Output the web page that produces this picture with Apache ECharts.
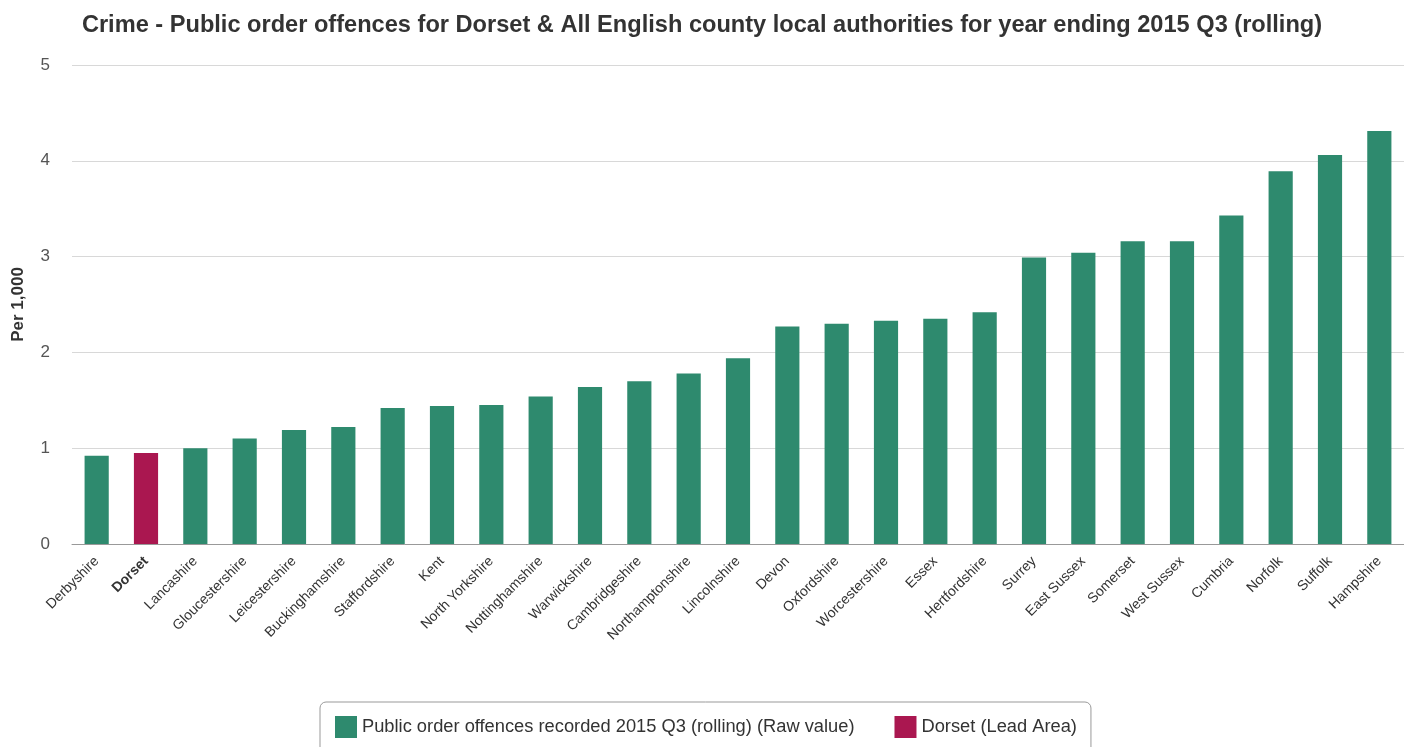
<!DOCTYPE html>
<html><head><meta charset="utf-8">
<script src="https://cdn.jsdelivr.net/npm/echarts@6/dist/echarts.min.js"></script>
<style>html,body{margin:0;padding:0;background:#fff}#c{width:1404px;height:747px}</style>
</head><body><div id="c"></div>
<script>
const categories = ["Derbyshire","Dorset","Lancashire","Gloucestershire","Leicestershire","Buckinghamshire","Staffordshire","Kent","North Yorkshire","Nottinghamshire","Warwickshire","Cambridgeshire","Northamptonshire","Lincolnshire","Devon","Oxfordshire","Worcestershire","Essex","Hertfordshire","Surrey","East Sussex","Somerset","West Sussex","Cumbria","Norfolk","Suffolk","Hampshire"];
const values = [0.92,0.95,1.00,1.10,1.19,1.22,1.42,1.44,1.45,1.54,1.64,1.70,1.78,1.94,2.27,2.30,2.33,2.35,2.42,2.99,3.04,3.16,3.16,3.43,3.89,4.06,4.31];
const leadArea = "Dorset";
const seriesNames = ["Public order offences recorded 2015 Q3 (rolling) (Raw value)","Dorset (Lead Area)"];
const yTicks = [0,1,2,3,4,5];

const mainData = values.map((v,i)=>categories[i]===leadArea?null:v);
const leadData = values.map((v,i)=>categories[i]===leadArea?v:null);

const chart = echarts.init(document.getElementById('c'));
chart.setOption({
  animation:false,
  textStyle:{fontFamily:'Liberation Sans, Arial, sans-serif'},
  title:{text:'Crime - Public order offences for Dorset & All English county local authorities for year ending 2015 Q3 (rolling)',
    left:'center', top:8, textStyle:{fontSize:23.6,fontWeight:'bold',color:'#333'}},
  grid:{left:72,right:0,top:65,bottom:203},
  legend:{top:702,left:320,data:seriesNames,icon:'rect',itemWidth:22,itemHeight:22,itemGap:40,
    borderColor:'#999',borderWidth:1,borderRadius:6,padding:[14,14,18,15],
    textStyle:{fontSize:18.3,color:'#333'}},
  xAxis:{type:'category',data:categories,
    axisLine:{lineStyle:{color:'#999',width:1}},
    axisTick:{length:10,lineStyle:{color:'#c0d0e0'}},
    axisLabel:{rotate:45,interval:0,fontSize:14,color:'#333',margin:15,
      formatter:(v)=>v===leadArea?'{b|'+v+'}':v, rich:{b:{fontWeight:'bold',fontSize:14,color:'#333'}}}},
  yAxis:{type:'value',min:0,max:5,interval:1,
    name:'Per 1,000',nameLocation:'middle',nameGap:45,nameRotate:90,
    nameTextStyle:{fontSize:17,fontWeight:'bold',color:'#333'},
    axisLabel:{fontSize:17,color:'#555',margin:22},
    splitLine:{lineStyle:{color:'#d8d8d8'}},axisLine:{show:false},axisTick:{show:false}},
  series:[
    {name:seriesNames[0],type:'bar',data:mainData,barWidth:'49%',barGap:'-100%',itemStyle:{color:'#2e8a6e'}},
    {name:seriesNames[1],type:'bar',data:leadData,barWidth:'49%',itemStyle:{color:'#aa1750'}}
  ]
});
</script></body></html>
